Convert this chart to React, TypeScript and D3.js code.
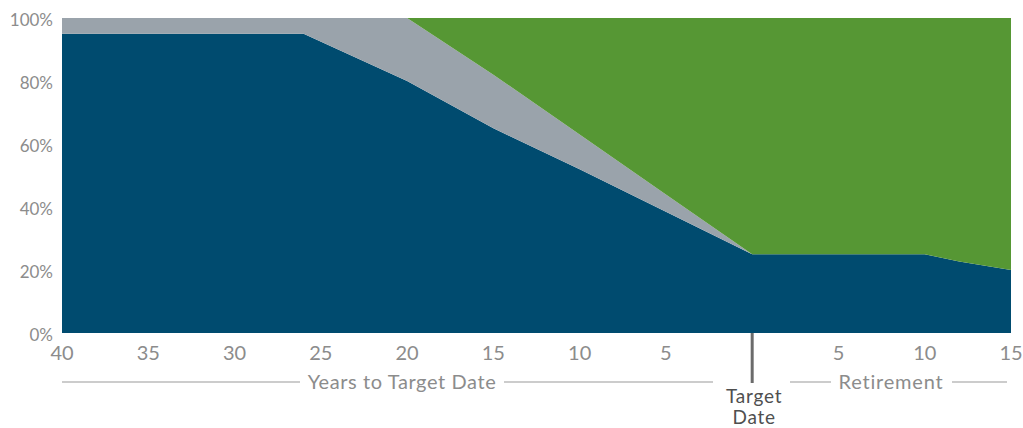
import React from "react";
import * as d3 from "d3";

const years = [-40, -26, -20, -15, -10, -5, 0, 10, 12, 15];
const blueSeries = [95, 95, 80, 65, 52, 38.5, 25, 25, 22.7, 20];
const graySeries = [5, 5, 20, 17, 11, 5.5, 0, 0, 0, 0];
const greenSeries = [0, 0, 0, 18, 37, 56, 75, 75, 77.3, 80];

const xTickValues = [-40, -35, -30, -25, -20, -15, -10, -5, 5, 10, 15];
const xTickLabels = ["40", "35", "30", "25", "20", "15", "10", "5", "5", "10", "15"];
const yTickValues = [0, 20, 40, 60, 80, 100];

const W = 1023;
const H = 428;
const M = { left: 62, right: 1011, top: 18, bottom: 333 };
const FONT = "Lato, 'Noto Sans', sans-serif";

export default function App() {
  const x = d3.scaleLinear().domain([-40, 15]).range([M.left, M.right]);
  const y = d3.scaleLinear().domain([0, 100]).range([M.bottom, M.top]);

  const rows = years.map((yr, i) => ({
    yr,
    blue: blueSeries[i],
    gray: graySeries[i],
    green: greenSeries[i],
  }));
  const keys = ["blue", "gray", "green"];
  const colors: Record<string, string> = {
    blue: "#004b6f",
    gray: "#9aa3ab",
    green: "#569734",
  };
  const stack = d3.stack<any>().keys(keys)(rows);
  const area = d3
    .area<any>()
    .x((d) => x(d.data.yr))
    .y0((d) => y(d[0]))
    .y1((d) => y(d[1]));

  const x0 = x(0);
  const lineY = 382;
  const tickColor = "#8c8c8c";

  return (
    <svg
      width={W}
      height={H}
      style={{ position: "absolute", left: 0, top: 0, background: "#fff" }}
    >
      {stack.map((s) => (
        <path key={s.key} d={area(s) || ""} fill={colors[s.key]} />
      ))}

      {yTickValues.map((v) => (
        <text
          key={v}
          x={53}
          y={y(v) + 8}
          textAnchor="end"
          fontFamily={FONT}
          fontSize={17}
          fill={tickColor}
        >
          {v}%
        </text>
      ))}

      {xTickValues.map((v, i) => (
        <text
          key={i}
          x={x(v)}
          y={360}
          textAnchor="middle"
          fontFamily={FONT}
          fontSize={20}
          fill={tickColor}
        >
          {xTickLabels[i]}
        </text>
      ))}

      <line x1={x0} x2={x0} y1={M.bottom} y2={383} stroke="#6b6b6b" strokeWidth={3} />
      <text
        x={x0 + 2}
        y={403}
        textAnchor="middle"
        fontFamily={FONT}
        fontSize={19}
        letterSpacing={0.8}
        fill="#4f4f4f"
      >
        Target
      </text>
      <text
        x={x0 + 2}
        y={424}
        textAnchor="middle"
        fontFamily={FONT}
        fontSize={19}
        letterSpacing={0.8}
        fill="#4f4f4f"
      >
        Date
      </text>

      <line x1={M.left} x2={300} y1={lineY} y2={lineY} stroke="#9a9a9a" strokeWidth={1.2} />
      <line x1={504} x2={713} y1={lineY} y2={lineY} stroke="#9a9a9a" strokeWidth={1.2} />
      <text
        x={402}
        y={389}
        textAnchor="middle"
        fontFamily={FONT}
        fontSize={20}
        letterSpacing={0.6}
        fill={tickColor}
      >
        Years to Target Date
      </text>

      <line x1={790} x2={831} y1={lineY} y2={lineY} stroke="#9a9a9a" strokeWidth={1.2} />
      <line x1={952} x2={1007} y1={lineY} y2={lineY} stroke="#9a9a9a" strokeWidth={1.2} />
      <text
        x={891}
        y={389}
        textAnchor="middle"
        fontFamily={FONT}
        fontSize={20}
        letterSpacing={0.8}
        fill={tickColor}
      >
        Retirement
      </text>
    </svg>
  );
}
